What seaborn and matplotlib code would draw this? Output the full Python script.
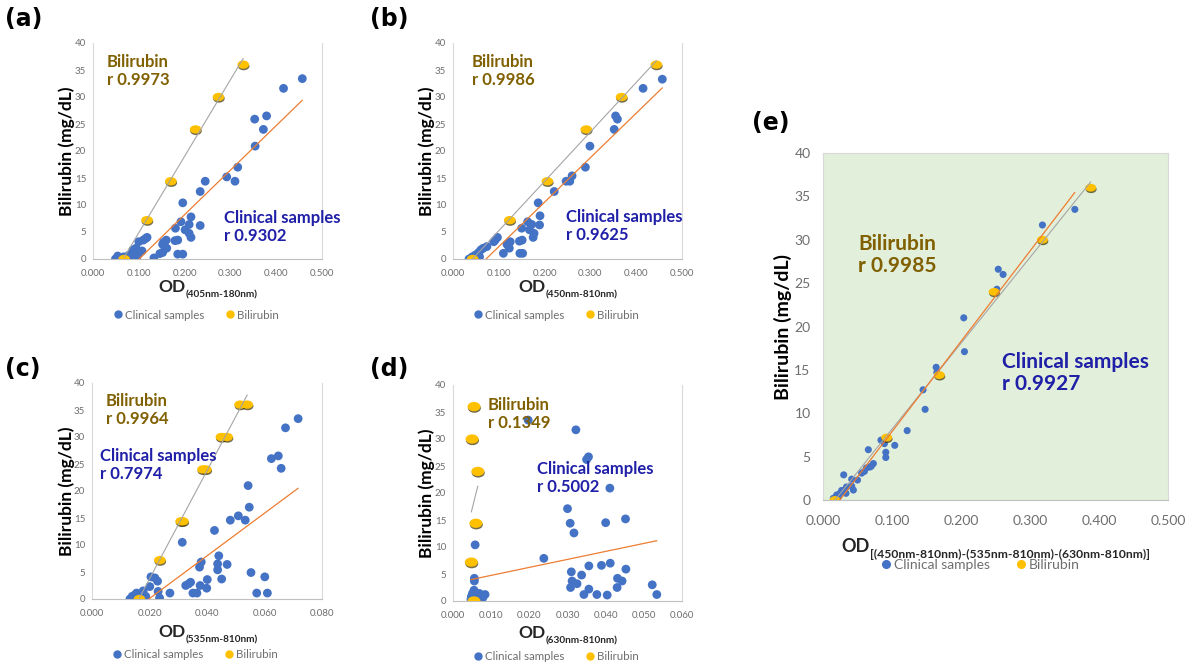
import numpy as np
import pandas as pd
import matplotlib
matplotlib.use("Agg")
import matplotlib.pyplot as plt
import matplotlib.patheffects as pe
from matplotlib.path import Path
from matplotlib.transforms import Affine2D
from matplotlib.lines import Line2D
import seaborn as sns

# ---------------- data ----------------
bili_levels = [0, 7.2, 14.4, 24, 30, 36]

# (a) OD(405nm-180nm)
a_clin_x = [0.457, 0.416, 0.379, 0.353, 0.372, 0.354, 0.316, 0.292, 0.245, 0.310, 0.234, 0.196,
            0.214, 0.192, 0.210, 0.234, 0.180, 0.201, 0.210, 0.214, 0.160, 0.154, 0.179, 0.185,
            0.156, 0.161, 0.152, 0.115, 0.110, 0.100, 0.118, 0.146, 0.152, 0.185, 0.196, 0.133,
            0.089, 0.087, 0.094, 0.101, 0.107, 0.054, 0.049, 0.067, 0.078, 0.083, 0.089, 0.096]
a_clin_y = [33.4, 31.6, 26.5, 25.9, 24.0, 20.9, 17.0, 15.2, 14.4, 14.4, 12.5, 10.4,
            7.8, 6.9, 6.4, 6.2, 5.7, 5.4, 4.75, 4.0, 3.5, 3.1, 3.4, 3.5,
            2.4, 2.0, 2.7, 3.8, 3.5, 3.2, 4.0, 1.0, 1.2, 0.9, 0.9, 0.2,
            1.2, 1.7, 2.0, 1.05, 1.5, 0.55, 0.0, 0.4, 0.7, 0.1, 0.1, 0.4]
a_bili_x = [0.068, 0.118, 0.170, 0.224, 0.274, 0.328]
a_bili_y = bili_levels

# (b) OD(450nm-810nm)
b_clin_x = [0.457, 0.415, 0.355, 0.359, 0.352, 0.299, 0.289, 0.260, 0.255, 0.247, 0.221, 0.186,
            0.190, 0.163, 0.172, 0.189, 0.150, 0.167, 0.177, 0.175, 0.151, 0.145, 0.125, 0.121,
            0.123, 0.118, 0.097, 0.092, 0.089, 0.074, 0.110, 0.146, 0.152, 0.056, 0.061, 0.066,
            0.049, 0.042, 0.035, 0.045, 0.053, 0.058]
b_clin_y = [33.3, 31.6, 26.5, 25.9, 24.0, 20.9, 17.0, 15.4, 14.4, 14.4, 12.5, 10.4,
            8.0, 6.9, 6.4, 6.3, 5.7, 5.4, 4.75, 4.0, 3.5, 3.3, 3.2, 2.4,
            2.0, 2.7, 4.0, 3.5, 3.2, 2.3, 1.05, 1.05, 1.05, 1.2, 1.7, 2.0,
            0.75, 0.4, 0.0, 0.1, 0.3, 0.4]
b_bili_x = [0.043, 0.124, 0.206, 0.291, 0.368, 0.444]
b_bili_y = bili_levels

# (c) OD(535nm-810nm)
c_clin_x = [0.0717, 0.0673, 0.0648, 0.0624, 0.0658, 0.0543, 0.0547, 0.0509, 0.0533, 0.0481,
            0.0426, 0.0314, 0.0441, 0.0380, 0.0437, 0.0470, 0.0374, 0.0437, 0.0553, 0.0601,
            0.0451, 0.0401, 0.0343, 0.0336, 0.0326, 0.0376, 0.0399, 0.0205, 0.0219, 0.0228,
            0.0201, 0.0230, 0.0271, 0.0351, 0.0365, 0.0573, 0.0610, 0.0235, 0.0178, 0.0155,
            0.0150, 0.0140, 0.0132, 0.0144, 0.0161, 0.0187]
c_clin_y = [33.4, 31.7, 26.5, 26.0, 24.2, 21.0, 17.0, 15.4, 14.6, 14.6,
            12.7, 10.5, 8.0, 6.85, 6.5, 6.4, 5.9, 5.4, 4.9, 4.1,
            3.7, 3.6, 3.1, 2.8, 2.5, 2.5, 2.0, 4.1, 3.9, 3.3,
            2.3, 1.4, 1.1, 1.1, 1.1, 1.1, 1.1, 0.2, 1.5, 1.1,
            0.8, 0.5, 0.0, 0.0, 0.2, 0.5]
c_bili_x = [0.0165, 0.0236, 0.0310, 0.0316, 0.0386, 0.0396, 0.0450, 0.0470, 0.0515, 0.0540]
c_bili_y = [0, 7.2, 14.4, 14.4, 24, 24, 30, 30, 36, 36]

# (d) OD(630nm-810nm)
d_clin_x = [0.0197, 0.0322, 0.0355, 0.0350, 0.0411, 0.0300, 0.0307, 0.0317, 0.0400, 0.0452,
            0.0238, 0.0356, 0.0389, 0.0412, 0.0453, 0.0310, 0.0337, 0.0312, 0.0325, 0.0308,
            0.0431, 0.0443, 0.0430, 0.0356, 0.0343, 0.0377, 0.0404, 0.0522, 0.0534, 0.0058,
            0.0056, 0.0056, 0.0051, 0.0048, 0.0069, 0.0084, 0.0078, 0.0060, 0.0050, 0.0055,
            0.0053, 0.0047, 0.0062, 0.0070]
d_clin_y = [33.5, 31.7, 26.7, 26.2, 20.9, 17.1, 14.4, 12.6, 14.5, 15.2,
            7.9, 6.5, 6.6, 7.0, 5.9, 5.4, 4.8, 3.7, 3.2, 2.5,
            4.2, 3.7, 2.5, 2.2, 1.2, 1.2, 1.1, 3.0, 1.2, 10.4,
            4.2, 3.7, 1.4, 0.8, 1.4, 1.2, 0.6, 0.2, 0.0, 2.0,
            1.0, 0.3, 0.5, 0.9]
d_bili_x = [0.0055, 0.0048, 0.0060, 0.0065, 0.0050, 0.0055]
d_bili_y = bili_levels

# (e) OD[(450nm-810nm)-(535nm-810nm)-(630nm-810nm)]
e_clin_x = [0.365, 0.318, 0.254, 0.261, 0.252, 0.204, 0.205, 0.164, 0.165, 0.145,
            0.148, 0.122, 0.084, 0.089, 0.104, 0.0657, 0.091, 0.091, 0.073, 0.068,
            0.063, 0.056, 0.030, 0.0416, 0.050, 0.044, 0.034, 0.027, 0.0246, 0.0198,
            0.015, 0.022, 0.0333, 0.0416, 0.060, 0.070]
e_clin_y = [33.5, 31.7, 26.6, 26.0, 24.3, 21.0, 17.1, 15.3, 14.7, 12.7,
            10.45, 8.0, 6.9, 6.5, 6.3, 5.8, 5.5, 4.9, 4.2, 3.8,
            3.7, 3.1, 2.9, 2.4, 2.3, 1.15, 1.5, 1.1, 0.77, 0.58,
            0.2, 0.3, 0.77, 1.6, 3.3, 3.9]
e_bili_x = [0.0174, 0.0923, 0.1686, 0.248, 0.318, 0.388]
e_bili_y = bili_levels

# ---------------- style ----------------
BLUE = "#4472C4"
YELLOW = "#FFC000"
ORANGE = "#ED7D31"
GREY_LINE = "#A5A5A5"
BILI_TXT = "#806000"
CLIN_TXT = "#1F1FA8"
TICK = "#6E6E6E"

sns.set_theme(style="white")
plt.rcParams["font.family"] = ["Lato", "DejaVu Sans"]

W, H = 1192, 666
fig = plt.figure(figsize=(W / 100, H / 100), dpi=100)
fig.patch.set_facecolor("white")

ELL = Path.unit_circle().transformed(Affine2D().scale(1.4, 1.0))


def add_axes_px(l, t, r, b):
    return fig.add_axes([l / W, 1 - b / H, (r - l) / W, (b - t) / H])


def draw_panel(ax, cx, cy, bx, by, xmax, xstep, big=False, bili_scale=1.0):
    dfc = pd.DataFrame({"x": cx, "y": cy})
    dfb = pd.DataFrame({"x": bx, "y": by})
    s_blue = 26 if big else 40
    s_yel = (62 if big else 70) * bili_scale
    sns.scatterplot(data=dfc, x="x", y="y", ax=ax, color=BLUE, s=s_blue,
                    edgecolor="none", linewidth=0, zorder=3, legend=False)
    sns.scatterplot(data=dfb, x="x", y="y", ax=ax, color=YELLOW, s=s_yel, marker=ELL,
                    edgecolor="none", linewidth=0, zorder=4, legend=False,
                    path_effects=[pe.SimplePatchShadow(offset=(0.3, -1.1), shadow_rgbFace="#3a3000", alpha=0.7),
                                  pe.Normal()])
    sns.regplot(data=dfb, x="x", y="y", ax=ax, scatter=False, ci=None, truncate=True,
                line_kws=dict(color=GREY_LINE, lw=0.8, zorder=5))
    sns.regplot(data=dfc, x="x", y="y", ax=ax, scatter=False, ci=None, truncate=True,
                line_kws=dict(color=ORANGE, lw=0.9, zorder=5))
    ax.set_xlim(0, xmax)
    ax.set_ylim(0, 40)
    ax.set_yticks(np.arange(0, 41, 5))
    ax.set_xticks(np.arange(0, xmax + 1e-9, xstep))
    ax.xaxis.set_major_formatter(matplotlib.ticker.FormatStrFormatter("%.3f"))
    ax.set_xlabel("")
    ax.set_ylabel("")
    ax.tick_params(length=0, labelcolor=TICK, labelsize=10 if big else 7,
                   pad=9 if big else 5)
    ax.tick_params(axis="x", pad=11 if big else 7)
    for side in ["left", "right", "top", "bottom"]:
        ax.spines[side].set_color("#D9D9D9")
        ax.spines[side].set_linewidth(0.8)
    ax.spines["bottom"].set_color("#BFBFBF")
    if not big:
        ax.spines["top"].set_visible(False)
    if big:
        ax.set_facecolor("#E2EFDA")
    else:
        ax.set_facecolor("white")


renderer = fig.canvas.get_renderer()


def od_label(sub, cx, base_y, fs_main, fs_sub, dy):
    t1 = fig.text(0, 0, "OD", fontsize=fs_main, fontweight="bold", ha="left", va="baseline")
    t2 = fig.text(0, 0, sub, fontsize=fs_sub, fontweight="bold", ha="left", va="baseline")
    w1 = t1.get_window_extent(renderer).width
    w2 = t2.get_window_extent(renderer).width
    x0 = cx - (w1 + w2) / 2
    t1.set_position((x0 / W, 1 - base_y / H))
    t2.set_position(((x0 + w1) / W, 1 - (base_y + dy) / H))


def legend(ax, cx, cy, fs, ms):
    handles = [Line2D([], [], marker="o", ls="", color=BLUE, markersize=ms),
               Line2D([], [], marker="o", ls="", color=YELLOW, markersize=ms)]
    ax.legend(handles, ["Clinical samples", "Bilirubin"], loc="center",
              bbox_to_anchor=(cx / W, 1 - cy / H), bbox_transform=fig.transFigure,
              ncol=2, frameon=False, fontsize=fs, handletextpad=0.2,
              columnspacing=1.8, labelcolor=TICK, handlelength=0.8, borderpad=0)


def ann(x, top, txt, color, fs):
    fig.text(x / W, 1 - top / H, txt, color=color, fontsize=fs, fontweight="bold",
             ha="left", va="top", linespacing=1.15)


def ylab(x, y, fs):
    fig.text(x / W, 1 - y / H, "Bilirubin (mg/dL)", rotation=90, ha="center", va="center",
             fontsize=fs, fontweight="bold", color="black")


def plabel(x, y, s):
    fig.text(x / W, 1 - y / H, s, ha="left", va="center", fontsize=17, fontweight="bold",
             family="DejaVu Sans", color="black")


# ---------------- panels ----------------
ax_a = add_axes_px(93, 43, 322, 259)
draw_panel(ax_a, a_clin_x, a_clin_y, a_bili_x, a_bili_y, 0.5, 0.1)
ax_b = add_axes_px(453, 43, 682, 259)
draw_panel(ax_b, b_clin_x, b_clin_y, b_bili_x, b_bili_y, 0.5, 0.1)
ax_c = add_axes_px(92, 383, 322, 599)
draw_panel(ax_c, c_clin_x, c_clin_y, c_bili_x, c_bili_y, 0.08, 0.02)
ax_d = add_axes_px(453, 385, 682, 601)
draw_panel(ax_d, d_clin_x, d_clin_y, d_bili_x, d_bili_y, 0.06, 0.01, bili_scale=1.25)
ax_e = add_axes_px(823, 153, 1168, 500)
draw_panel(ax_e, e_clin_x, e_clin_y, e_bili_x, e_bili_y, 0.5, 0.1, big=True)

# axis titles
ylab(67, 151, 12.5)
ylab(427, 151, 12.5)
ylab(67, 491, 12.5)
ylab(427, 493, 12.5)
ylab(783, 327, 14)

od_label("(405nm-180nm)", 208, 292, 12.5, 7.2, 5)
od_label("(450nm-810nm)", 568, 292, 12.5, 7.2, 5)
od_label("(535nm-810nm)", 208, 637, 12.5, 7.2, 5)
od_label("(630nm-810nm)", 568, 638, 12.5, 7.2, 5)
od_label("[(450nm-810nm)-(535nm-810nm)-(630nm-810nm)]", 996, 552, 13, 8.7, 6)

# legends
legend(ax_a, 196, 315, 8.3, 5)
legend(ax_b, 556, 315, 8.3, 5)
legend(ax_c, 195, 655, 8.3, 5)
legend(ax_d, 556, 657, 8.3, 5)
legend(ax_e, 980, 565, 10, 5.5)

# in-plot annotations
ann(107, 54, "Bilirubin\nr 0.9973", BILI_TXT, 12)
ann(224, 210, "Clinical samples\nr 0.9302", CLIN_TXT, 12)
ann(472, 54, "Bilirubin\nr 0.9986", BILI_TXT, 12)
ann(566, 209, "Clinical samples\nr 0.9625", CLIN_TXT, 12)
ann(106, 393, "Bilirubin\nr 0.9964", BILI_TXT, 12)
ann(100, 448, "Clinical samples\nr 0.7974", CLIN_TXT, 12)
ann(488, 397, "Bilirubin\nr 0.1349", BILI_TXT, 12)
ann(537, 461, "Clinical samples\nr 0.5002", CLIN_TXT, 12)
ann(858, 234, "Bilirubin\nr 0.9985", BILI_TXT, 15)
ann(1002, 352, "Clinical samples\nr 0.9927", CLIN_TXT, 15)

# panel letters
plabel(5, 19, "(a)")
plabel(370, 19, "(b)")
plabel(5, 369, "(c)")
plabel(370, 369, "(d)")
plabel(752, 123, "(e)")

fig.savefig("out.png", dpi=100, facecolor="white")
